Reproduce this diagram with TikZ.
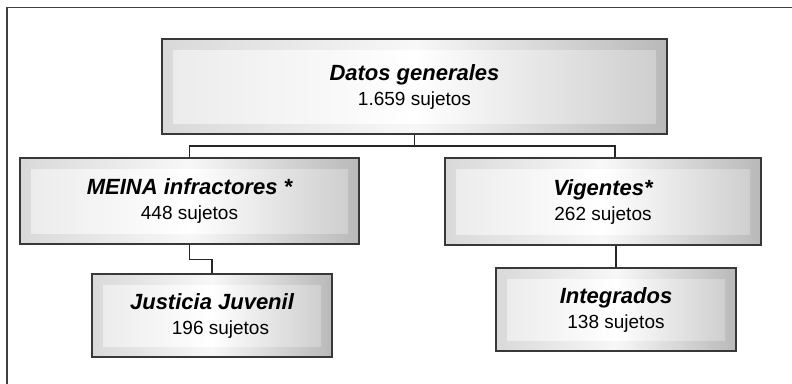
\documentclass[tikz,border=0pt]{standalone}
\usepackage{fontspec}
\setmainfont{Liberation Sans}
\usetikzlibrary{calc}
\newcommand{\ttl}[1]{{\fontsize{22}{25}\selectfont\bfseries\itshape #1}}
\newcommand{\cnt}[1]{{\fontsize{19}{25}\selectfont #1}}
\tikzset{
  box/.style={draw=black!78, line width=1.1pt, rectangle, inner sep=0pt, align=center,
    font=\fontsize{19}{25}\selectfont,
    path picture={
      \shade[left color=gray!30, right color=gray!55, middle color=gray!6]
        (path picture bounding box.south west) rectangle (path picture bounding box.north east);
      \shade[left color=gray!15, right color=gray!38, middle color=white]
        ([shift={(11pt,11pt)}]path picture bounding box.south west) rectangle ([shift={(-11pt,-11pt)}]path picture bounding box.north east);
    }},
  conn/.style={draw=black!85, line width=1.1pt},
  frame/.style={draw=black!75, line width=1.4pt}
}
\begin{document}
\begin{tikzpicture}[x=1pt,y=-1pt]
\useasboundingbox (0,0) rectangle (792,383);
\draw[frame] (7,384) -- (7,7.5) -- (793,7.5);

\node[box, minimum width=505pt, minimum height=95pt] (top) at (414.5,86.5)
  {\ttl{Datos generales}\\\cnt{1.659 sujetos}};
\node[box, minimum width=339pt, minimum height=86pt] (meina) at (189.5,201)
  {\ttl{MEINA infractores *}\\\cnt{448 sujetos}};
\node[box, minimum width=316pt, minimum height=87pt] (vig) at (603,201.5)
  {\ttl{Vigentes*}\\\cnt{262 sujetos}};
\node[box, minimum width=240pt, minimum height=83pt] (just) at (212,315.5)
  {\ttl{Justicia Juvenil}\\\cnt{\hspace*{17pt}196 sujetos}};
\node[box, minimum width=240pt, minimum height=83pt] (integ) at (616,309.5)
  {\ttl{Integrados}\\\cnt{138 sujetos}};

\coordinate (hb) at (414.5,146);
\draw[conn] (top.south) -- (hb);
\draw[conn] (meina.north) |- (hb) -| ([xshift=12pt]vig.north);
\draw[conn] (meina.south) -- ++(0,15) -| (just.north);
\draw[conn] (integ.north |- vig.south) -- (integ.north);
\end{tikzpicture}
\end{document}
